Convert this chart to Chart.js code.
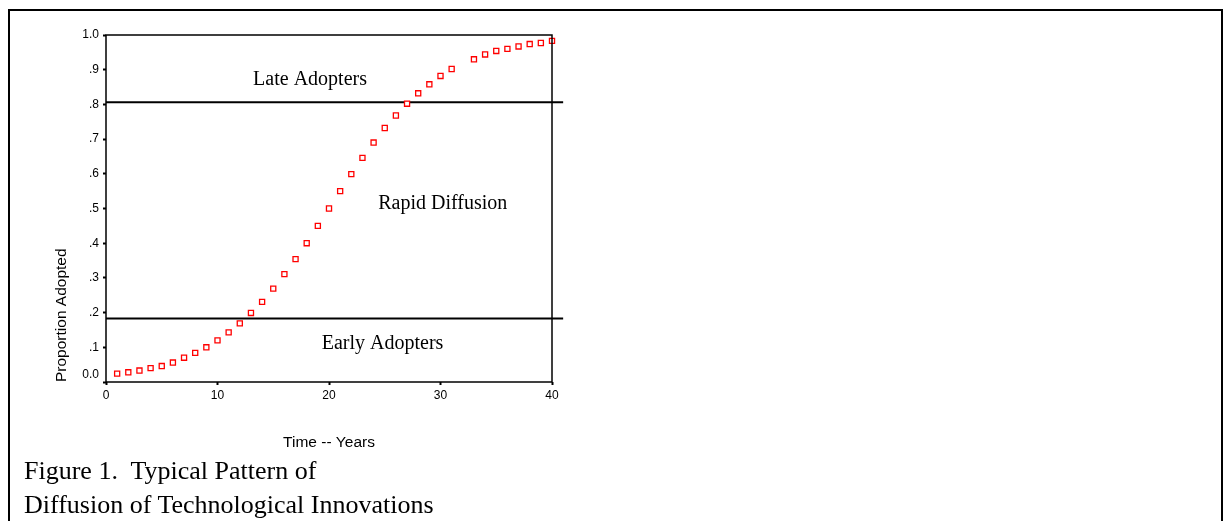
<!DOCTYPE html>
<html lang="en">
<head>
<meta charset="UTF-8">
<title>Diffusion of Technological Innovations</title>
<style>
  html, body { margin: 0; padding: 0; background: #fff; overflow: hidden; }
  #frame { position: absolute; left: 8px; top: 9px; width: 1211px; height: 600px; border: 2px solid #000; border-bottom: none; }
  #wrap { position: absolute; left: 0; top: 0; width: 600px; height: 460px; }
  #caption { position: absolute; left: 24px; top: 454px; font-family: "Liberation Serif", "Times New Roman", serif; font-size: 26px; line-height: 34px; white-space: pre; color: #000; }
</style>
</head>
<body>
<div id="frame"></div>
<div id="wrap"><canvas id="myChart"></canvas></div>
<div id="caption">Figure 1.  Typical Pattern of
Diffusion of Technological Innovations</div>

<script src="https://cdn.jsdelivr.net/npm/chart.js"></script>
<script>
// years on the x axis (year 32 has no point in the original)
const years = [1, 2, 3, 4, 5, 6, 7, 8, 9, 10,
               11, 12, 13, 14, 15, 16, 17, 18, 19, 20,
               21, 22, 23, 24, 25, 26, 27, 28, 29, 30,
               31, 33, 34, 35, 36, 37, 38, 39, 40];
const proportion = [.024, .028, .033, .040, .046, .056, .070, .084, .100, .120,
                    .143, .169, .199, .231, .269, .311, .354, .400, .450, .500,
                    .550, .599, .646, .690, .732, .768, .802, .832, .858, .882,
                    .902, .930, .944, .954, .960, .967, .974, .977, .983];

// the two cut-off lines
const lateCutoff = 0.806;
const earlyCutoff = 0.183;
const cutoffSpan = [0, 41];

const xTicks = [0, 10, 20, 30, 40];
const yTicks = [0, .1, .2, .3, .4, .5, .6, .7, .8, .9, 1];

const regionNames = ['Late Adopters', 'Rapid Diffusion', 'Early Adopters'];

// where the region names sit, in data units (centre x, baseline y)
const regionAnchors = [[18.3, 0.857], [30.2, 0.499], [24.8, 0.095]];

const sans = '"Liberation Sans", Arial, sans-serif';
const serif = '"Liberation Serif", "Times New Roman", serif';

const textPlugin = {
  id: 'figureText',
  afterDraw(chart) {
    const c = chart.ctx;
    const a = chart.chartArea;
    const xs = chart.scales.x, ys = chart.scales.y;
    c.save();
    // frame round the plot
    c.strokeStyle = '#000';
    c.lineWidth = 1.5;
    c.strokeRect(a.left, a.top, a.right - a.left, a.bottom - a.top);

    c.fillStyle = '#000';
    c.font = '20px ' + serif;
    c.textAlign = 'center';
    c.textBaseline = 'alphabetic';
    regionNames.forEach((name, i) => {
      c.fillText(name, xs.getPixelForValue(regionAnchors[i][0]), ys.getPixelForValue(regionAnchors[i][1]));
    });

    // axis titles
    c.font = '15.5px ' + sans;
    c.textBaseline = 'middle';
    c.fillText('Time -- Years', (a.left + a.right) / 2, a.bottom + 61);
    c.translate(a.left - 44, a.bottom);
    c.rotate(-Math.PI / 2);
    c.textAlign = 'left';
    c.fillText('Proportion Adopted', 0, 0);
    c.restore();
  }
};

const ctx = document.getElementById('myChart');
new Chart(ctx, {
  data: {
    datasets: [
      {
        type: 'scatter',
        data: years.map((yr, i) => ({ x: yr, y: proportion[i] })),
        pointStyle: 'rect',
        pointRadius: 3.6,
        borderColor: '#ff0000',
        backgroundColor: '#ffffff',
        borderWidth: 1.3,
        clip: false
      },
      {
        type: 'line',
        data: cutoffSpan.map(x => ({ x: x, y: lateCutoff })),
        borderColor: '#000',
        borderWidth: 2,
        pointRadius: 0,
        clip: false
      },
      {
        type: 'line',
        data: cutoffSpan.map(x => ({ x: x, y: earlyCutoff })),
        borderColor: '#000',
        borderWidth: 2,
        pointRadius: 0,
        clip: false
      }
    ]
  },
  options: {
    responsive: true,
    maintainAspectRatio: false,
    animation: false,
    events: [],
    layout: { padding: { left: 0, top: 35, right: 48, bottom: 0 } },
    plugins: { legend: { display: false }, tooltip: { enabled: false } },
    scales: {
      x: {
        type: 'linear',
        min: 0, max: 40,
        afterFit(s) { s.height = 78; },
        afterBuildTicks(s) { s.ticks = xTicks.map(v => ({ value: v })); },
        border: { display: false },
        grid: { display: true, drawOnChartArea: false, drawTicks: true, tickLength: 3, tickWidth: 2, tickColor: '#000' },
        ticks: { color: '#000', font: { family: sans, size: 12 }, padding: 3, maxRotation: 0 }
      },
      y: {
        type: 'linear',
        min: 0, max: 1,
        afterFit(s) { s.width = 106; },
        afterBuildTicks(s) { s.ticks = yTicks.map(v => ({ value: v })); },
        border: { display: false },
        grid: { display: true, drawOnChartArea: false, drawTicks: true, tickLength: 3, tickWidth: 2, tickColor: '#000' },
        ticks: {
          color: '#000',
          font: { family: sans, size: 12 },
          padding: 4,
          callback(v) {
            if (v === 0) return ['0.0', ''];
            if (v === 1) return '1.0';
            return '.' + Math.round(v * 10);
          }
        }
      }
    }
  },
  plugins: [textPlugin]
});
</script>
</body>
</html>
